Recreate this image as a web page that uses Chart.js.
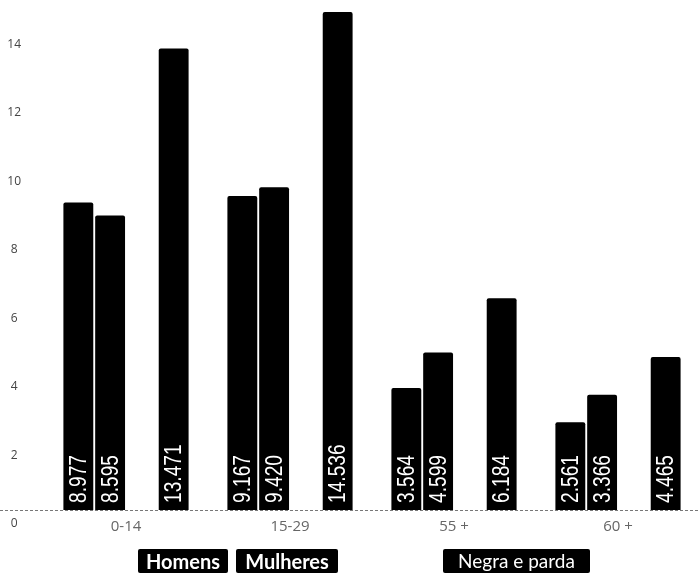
<!DOCTYPE html>
<html>
<head>
<meta charset="utf-8">
<script src="https://cdn.jsdelivr.net/npm/chart.js@4/dist/chart.umd.min.js"></script>
<style>
  html, body { margin: 0; padding: 0; background: #fff; }
  #wrap { position: relative; width: 700px; height: 575px; overflow: hidden; }
  .key {
    position: absolute; top: 549px; height: 24px; line-height: 24px;
    background: #000; color: #fff; text-align: center; border-radius: 2px;
    font-family: Lato, 'Open Sans', sans-serif; font-size: 19px;
  }
  .key.bold { font-weight: bold; font-size: 20px; }
</style>
</head>
<body>
<div id="wrap">
  <canvas id="chart" width="700" height="575"></canvas>
  <div class="key bold" style="left:138px;width:90px">Homens</div>
  <div class="key bold" style="left:236px;width:102px">Mulheres</div>
  <div class="key" style="left:443px;width:147px">Negra e parda</div>
</div>
<script>
const categories = ['0-14', '15-29', '55 +', '60 +'];
const homens = [8.977, 9.167, 3.564, 2.561];
const mulheres = [8.595, 9.420, 4.599, 3.366];
const negraParda = [13.471, 14.536, 6.184, 4.465];
const yTicks = [0, 2, 4, 6, 8, 10, 12, 14];

const fmt = (v) => v.toFixed(3);

// rotated white value labels at the foot of each bar (squeezed to look condensed)
const barLabels = {
  id: 'barLabels',
  afterDatasetsDraw(chart) {
    const { ctx } = chart;
    ctx.save();
    ctx.fillStyle = '#fff';
    ctx.font = '24px "Liberation Sans", Arial, sans-serif';
    ctx.textAlign = 'left';
    ctx.textBaseline = 'middle';
    chart.data.datasets.forEach((ds, i) => {
      chart.getDatasetMeta(i).data.forEach((bar, j) => {
        const v = ds.data[j];
        if (v == null) return;
        ctx.save();
        ctx.translate(bar.x, bar.base - 7);
        ctx.rotate(-Math.PI / 2);
        ctx.scale(0.8, 1);
        ctx.fillText(fmt(v), 0, 1);
        ctx.restore();
      });
    });
    ctx.restore();
  },
};

// dotted baseline across the whole width
const baseline = {
  id: 'baseline',
  afterDraw(chart) {
    const { ctx } = chart;
    const y = Math.round(chart.scales.y.getPixelForValue(0)) + 0.5;
    ctx.save();
    ctx.strokeStyle = '#777';
    ctx.lineWidth = 1;
    ctx.setLineDash([3, 2]);
    ctx.beginPath();
    ctx.moveTo(0, y);
    ctx.lineTo(chart.width, y);
    ctx.stroke();
    ctx.restore();
  },
};

const bar = (label, data) => ({
  label,
  data,
  backgroundColor: '#000',
  borderRadius: 2,
  borderSkipped: 'bottom',
  barPercentage: 0.94,
  categoryPercentage: 0.775,
});

new Chart(document.getElementById('chart'), {
  type: 'bar',
  data: {
    labels: categories,
    datasets: [
      bar('Homens', homens),
      bar('Mulheres', mulheres),
      bar('', categories.map(() => null)),
      bar('Negra e parda', negraParda),
    ],
  },
  options: {
    responsive: false,
    animation: false,
    layout: { padding: { top: 0, right: 0, bottom: 35, left: 0 } },
    plugins: { legend: { display: false }, tooltip: { enabled: false } },
    scales: {
      x: {
        grid: { display: false },
        border: { display: false },
        afterFit: (scale) => { scale.height = 30; scale.paddingLeft = 0; scale.paddingRight = 0; },
        ticks: {
          padding: 0,
          color: '#666',
          font: { family: '"Open Sans", sans-serif', size: 15 },
          maxRotation: 0,
        },
      },
      y: {
        min: 0,
        max: 14.89,
        grid: { display: false },
        border: { display: false },
        afterBuildTicks: (scale) => { scale.ticks = yTicks.map((value) => ({ value })); },
        afterFit: (scale) => { scale.width = 44; scale.paddingTop = 0; scale.paddingBottom = 0; },
        ticks: {
          color: '#444',
          padding: 15,
          crossAlign: 'center',
          labelOffset: 14,
          font: { family: '"Open Sans", sans-serif', size: 12 },
        },
      },
    },
  },
  plugins: [barLabels, baseline],
});
</script>
</body>
</html>
